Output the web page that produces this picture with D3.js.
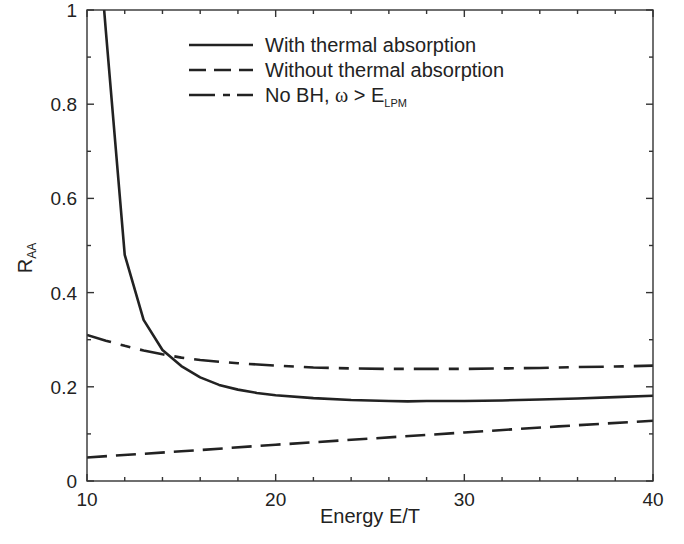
<!DOCTYPE html>
<html><head><meta charset="utf-8">
<script src="https://cdn.jsdelivr.net/npm/d3@7/dist/d3.min.js"></script>
<style>body{margin:0;background:#fff}text{font-family:"Liberation Sans",Arial,sans-serif;fill:#222}</style>
</head><body><svg id="c" width="684" height="544"></svg>
<script>
// Data
const withE   = [10, 11, 12, 13, 14, 15, 16, 17, 18, 19, 20, 22, 24, 26, 27, 28, 30, 32, 34, 36, 38, 40];
const withV   = [1.45, 0.955, 0.48, 0.342, 0.278, 0.244, 0.220, 0.204, 0.194, 0.187, 0.182, 0.176, 0.172, 0.170, 0.169, 0.170, 0.170, 0.171, 0.173, 0.175, 0.178, 0.181];
const withoutE = [10, 15, 20, 25, 30, 35, 40];
const withoutV = [0.050, 0.063, 0.077, 0.090, 0.103, 0.116, 0.128];
const noBHE   = [10, 11, 12, 13, 14, 15, 16, 17, 18, 20, 22, 24, 26, 28, 30, 32, 34, 36, 38, 40];
const noBHV   = [0.310, 0.298, 0.287, 0.277, 0.269, 0.262, 0.257, 0.253, 0.250, 0.245, 0.241, 0.239, 0.238, 0.238, 0.238, 0.239, 0.240, 0.242, 0.243, 0.245];
const xTicks = [10, 20, 30, 40];
const yTicks = [0, 0.2, 0.4, 0.6, 0.8, 1];
const xMinor = [12, 14, 16, 18, 22, 24, 26, 28, 32, 34, 36, 38];
const yMinor = [0.1, 0.3, 0.5, 0.7, 0.9];

const svg = d3.select("#c");
const L = 87, R = 653, T = 10, B = 481;
const x = d3.scaleLinear().domain([10, 40]).range([L, R]);
const y = d3.scaleLinear().domain([0, 1]).range([B, T]);

svg.append("clipPath").attr("id","clip").append("rect")
  .attr("x", L).attr("y", T).attr("width", R-L).attr("height", B-T);

const line = d3.line().x(d => x(d[0])).y(d => y(d[1]));
const zip = (a, b) => a.map((v, i) => [v, b[i]]);
const g = svg.append("g").attr("clip-path","url(#clip)");
const lineStyle = (p) => p.attr("fill","none").attr("stroke","#222").attr("stroke-width",2.6).attr("stroke-linejoin","round");
g.append("path").datum(zip(withoutE, withoutV)).attr("d", line).call(lineStyle).attr("stroke-dasharray","20,9");
g.append("path").datum(zip(noBHE, noBHV)).attr("d", line).call(lineStyle).attr("stroke-dasharray","25,10,10,10");
g.append("path").datum(zip(withE, withV)).attr("d", line).call(lineStyle);

// axes (ticks inward)
const ax = svg.append("g").attr("stroke","#333").attr("stroke-width",1.4);
ax.append("rect").attr("x",L).attr("y",T).attr("width",R-L).attr("height",B-T).attr("fill","none");
const tk = (vals, len, f) => vals.forEach(v => f(v, len));
const xt = (v, len) => { ax.append("line").attr("x1",x(v)).attr("x2",x(v)).attr("y1",B).attr("y2",B-len);
                         ax.append("line").attr("x1",x(v)).attr("x2",x(v)).attr("y1",T).attr("y2",T+len); };
const yt = (v, len) => { ax.append("line").attr("y1",y(v)).attr("y2",y(v)).attr("x1",L).attr("x2",L+len);
                         ax.append("line").attr("y1",y(v)).attr("y2",y(v)).attr("x1",R).attr("x2",R-len); };
tk(xTicks, 7, xt); tk(xMinor, 4, xt); tk(yTicks, 7, yt); tk(yMinor, 4, yt);

// tick labels
svg.append("g").selectAll("text").data(xTicks).join("text")
  .attr("x", d => x(d)).attr("y", B + 25).attr("text-anchor","middle").attr("font-size",19).text(d => d);
svg.append("g").selectAll("text").data(yTicks).join("text")
  .attr("x", L - 10).attr("y", d => y(d) + 7).attr("text-anchor","end").attr("font-size",19).text(d => d);

// axis titles
svg.append("text").attr("x", (L+R)/2).attr("y", 523).attr("text-anchor","middle").attr("font-size",20).text("Energy E/T");
const yl = svg.append("text").attr("transform","translate(32,258) rotate(-90)").attr("text-anchor","middle").attr("font-size",20);
yl.append("tspan").text("R");
yl.append("tspan").attr("font-size",12).attr("dy",4).text("AA");

// legend
const leg = [{y:45, dash:null}, {y:70, dash:"17,8"}, {y:95, dash:"26,8,7,7"}];
leg.forEach(d => {
  const l = svg.append("line").attr("x1",189).attr("x2",253).attr("y1",d.y).attr("y2",d.y)
    .attr("stroke","#222").attr("stroke-width",2.6);
  if (d.dash) l.attr("stroke-dasharray", d.dash);
});
svg.append("text").attr("x",265).attr("y",52).attr("font-size",20).text("With thermal absorption");
svg.append("text").attr("x",265).attr("y",77).attr("font-size",20).text("Without thermal absorption");
const t3 = svg.append("text").attr("x",265).attr("y",102).attr("font-size",20);
t3.append("tspan").text("No BH, ");
t3.append("tspan").attr("font-family","Liberation Serif, serif").attr("font-size",20).text("ω");
t3.append("tspan").text(" > E");
t3.append("tspan").attr("font-size",11).attr("dy",5).text("LPM");
</script></body></html>
